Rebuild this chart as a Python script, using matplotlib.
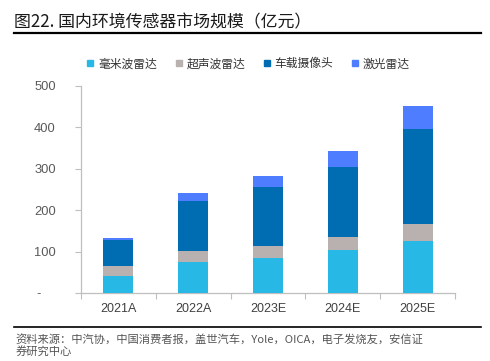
import matplotlib
matplotlib.use("Agg")
import matplotlib.pyplot as plt
from matplotlib.lines import Line2D
import numpy as np

plt.rcParams['font.family'] = ['Noto Sans CJK SC', 'DejaVu Sans']

categories = ["2021A", "2022A", "2023E", "2024E", "2025E"]
series_names = ["毫米波雷达", "超声波雷达", "车载摄像头", "激光雷达"]
mmwave = [42, 75, 85, 104, 125]
ultrasonic = [23, 26, 28, 32, 41]
camera = [64, 122, 142, 168, 230]
lidar = [4, 18, 26, 38, 55]
yticks = [0, 100, 200, 300, 400, 500]
ytick_labels = ["-    ", "100", "200", "300", "400", "500"]
colors = ["#27B8E6", "#B8B1B0", "#006CB1", "#4F7DFF"]

title = "图22. 国内环境传感器市场规模（亿元）"
source_lines = ["资料来源：中汽协，中国消费者报，盖世汽车，Yole，OICA，电子发烧友，安信证",
                "券研究中心"]

fig = plt.figure(figsize=(4.9, 3.61), dpi=100)
ax = fig.add_axes([0.165, 0.1884, 0.764, 0.5742])

x = np.arange(len(categories))
bottom = np.zeros(len(categories))
for vals, col, name in zip([mmwave, ultrasonic, camera, lidar], colors, series_names):
    ax.bar(x, vals, width=0.4, bottom=bottom, color=col, label=name, zorder=3)
    bottom += np.array(vals)

ax.set_xlim(-0.5, len(categories) - 0.5)
ax.set_ylim(0, 500)
ax.set_yticks(yticks)
ax.set_yticklabels(ytick_labels, family=['Liberation Sans', 'DejaVu Sans'], fontsize=9.3, color="#595959")
ax.set_xticks(x)
ax.set_xticklabels(categories, family=['Liberation Sans', 'DejaVu Sans'], fontsize=9, color="#404040")
ax.tick_params(axis='x', length=0, pad=7)
ax.tick_params(axis='y', length=4, color="#BFBFBF", width=0.8, pad=14, direction='out')
ax.set_xticks(np.arange(-0.5, len(categories)), minor=True)
ax.tick_params(axis='x', which='minor', length=4, color="#BFBFBF", width=0.8)
for s in ['top', 'right']:
    ax.spines[s].set_visible(False)
for s in ['left', 'bottom']:
    ax.spines[s].set_color("#BFBFBF")
    ax.spines[s].set_linewidth(0.9)

handles = [Line2D([0], [0], marker='s', linestyle='none', markersize=5,
                  markerfacecolor=c, markeredgecolor=c) for c in colors]
fig.legend(handles, series_names, loc='center', bbox_to_anchor=(0.506, 0.823), ncol=4,
           frameon=False, fontsize=8.5, handlelength=0.7, handletextpad=0.3,
           columnspacing=1.5, labelcolor="#333333")

fig.text(0.029, 0.938, title, fontsize=12.2, color="#1a1a1a", va='center', ha='left')
fig.add_artist(Line2D([0.028, 0.981], [0.908, 0.908], color='black', lw=1.6, transform=fig.transFigure))
fig.add_artist(Line2D([0.028, 0.981], [0.0934, 0.0934], color='black', lw=1.2, transform=fig.transFigure))
fig.text(0.031, 0.0601, source_lines[0], fontsize=8.1, color="#555555", va='center', ha='left')
fig.text(0.031, 0.0230, source_lines[1], fontsize=8.1, color="#555555", va='center', ha='left')

fig.savefig("out.png", dpi=100)
